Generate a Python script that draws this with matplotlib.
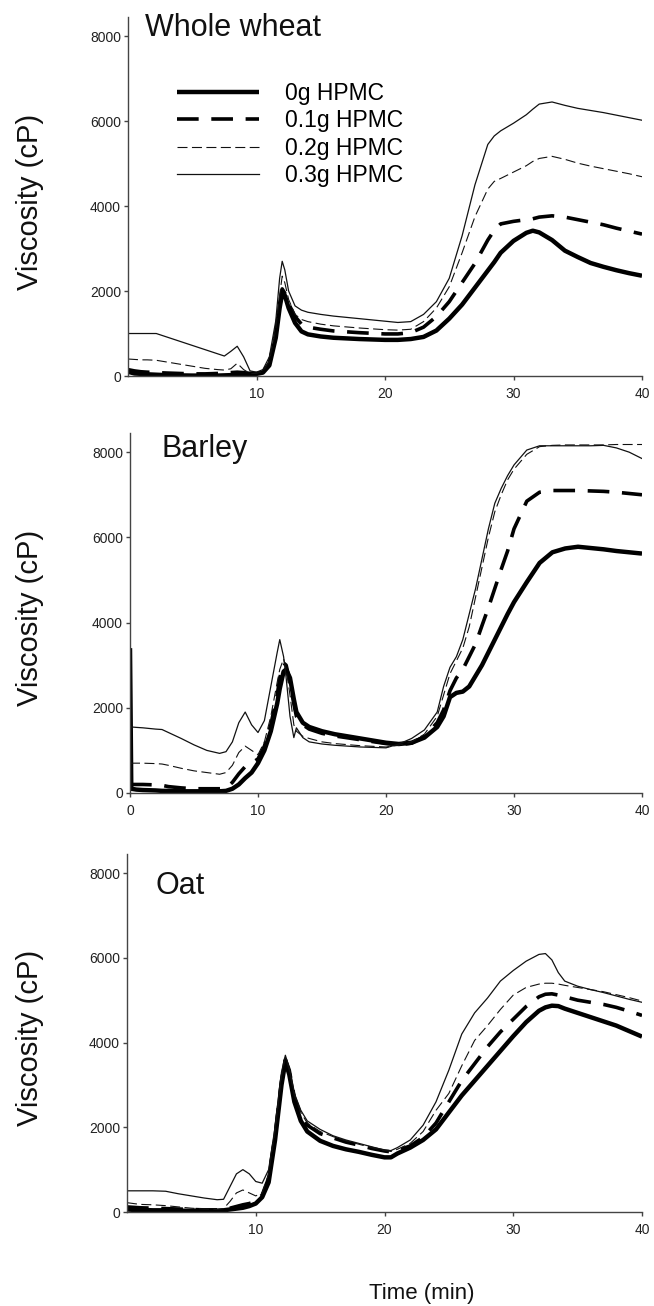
import matplotlib
matplotlib.use("Agg")
import matplotlib.pyplot as plt

plt.rcParams['font.family'] = ['Liberation Sans', 'DejaVu Sans']

series_labels = ["0g HPMC", "0.1g HPMC", "0.2g HPMC", "0.3g HPMC"]
panel_titles = ["Whole wheat", "Barley", "Oat"]
yticks = [0, 2000, 4000, 6000, 8000]

# ---------------- Whole wheat ----------------
t_wheat = [0, 0.5, 1, 1.5, 2.2, 3, 4, 5, 6, 7, 7.5, 8, 8.5, 9, 9.5, 10, 10.5, 11, 11.5, 11.8,
           12, 12.2, 12.5, 13, 13.5, 14, 15, 16, 18, 20, 21, 22, 23, 24, 25, 26, 27, 28, 28.5, 29,
           30, 31, 31.5, 32, 33, 34, 35, 36, 37, 38, 39, 40]
wheat_0 = [100, 60, 50, 40, 30, 20, 15, 10, 10, 10, 15, 20, 30, 40, 45, 50, 80, 250, 900, 1600,
           1950, 1900, 1600, 1250, 1050, 980, 930, 900, 870, 850, 850, 870, 920, 1070, 1350, 1680, 2080, 2480, 2680, 2900,
           3180, 3370, 3420, 3380, 3200, 2950, 2800, 2660, 2570, 2490, 2420, 2360]
wheat_01 = [150, 120, 100, 90, 80, 70, 60, 50, 50, 60, 70, 80, 90, 80, 60, 60, 100, 300, 1000, 1700,
            2050, 1950, 1700, 1400, 1220, 1150, 1100, 1060, 1020, 990, 990, 1020, 1150, 1400, 1750, 2200, 2650, 3200, 3430, 3580,
            3640, 3680, 3700, 3740, 3770, 3740, 3680, 3620, 3560, 3480, 3410, 3340]
wheat_02 = [400, 390, 380, 380, 370, 330, 280, 230, 180, 150, 140, 170, 300, 150, 60, 60, 110, 350, 1100, 1900,
            2350, 2200, 1800, 1450, 1330, 1280, 1220, 1180, 1130, 1090, 1080, 1100, 1280, 1600, 2100, 2900, 3750, 4400, 4580, 4650,
            4800, 4950, 5050, 5120, 5170, 5100, 5010, 4940, 4880, 4820, 4760, 4690]
wheat_03 = [1000, 1000, 1000, 1000, 1000, 920, 820, 720, 620, 520, 470, 580, 700, 450, 120, 90, 150, 450, 1300, 2300,
            2700, 2500, 2000, 1650, 1550, 1500, 1450, 1410, 1350, 1290, 1260, 1280, 1450, 1750, 2300, 3300, 4500, 5450, 5650, 5770,
            5950, 6150, 6280, 6400, 6450, 6370, 6300, 6250, 6200, 6140, 6080, 6020]

# ---------------- Barley ----------------
t_barley = [0, 0.1, 0.5, 1, 2, 2.5, 3, 4, 5, 6, 7, 7.5, 8, 8.5, 9, 9.5, 10, 10.5, 11, 11.5,
            11.7, 12, 12.2, 12.5, 12.8, 13, 13.5, 14, 15, 16, 18, 20, 21, 22, 23, 24, 24.5, 25, 25.5, 26,
            26.5, 27, 27.5, 28, 28.5, 29, 29.5, 30, 31, 32, 33, 34, 35, 36, 37, 38, 39, 40]
barley_0 = [3400, 100, 80, 70, 60, 50, 50, 40, 40, 40, 40, 50, 100, 200, 350, 480, 700, 1000, 1450, 2100,
            2450, 2850, 2900, 2700, 2200, 1900, 1650, 1550, 1450, 1380, 1280, 1180, 1150, 1180, 1300, 1550, 1800, 2250, 2350, 2380,
            2500, 2750, 3000, 3300, 3600, 3900, 4200, 4480, 4950, 5400, 5650, 5740, 5780, 5750, 5720, 5680, 5650, 5620]
barley_01 = [200, 200, 200, 200, 190, 180, 150, 120, 100, 100, 100, 110, 250, 450, 620, 700, 800, 1100, 1600, 2300,
             2700, 3050, 3000, 2600, 2100, 1800, 1600, 1500, 1400, 1340, 1250, 1160, 1130, 1170, 1330, 1650, 1950, 2400, 2700, 2900,
             3200, 3500, 3930, 4350, 4800, 5250, 5680, 6200, 6850, 7060, 7100, 7100, 7100, 7090, 7080, 7060, 7030, 7000]
barley_02 = [700, 700, 700, 700, 690, 680, 650, 580, 520, 480, 440, 480, 650, 950, 1100, 1000, 900, 1200, 1800, 2600,
             2900, 3150, 2900, 2300, 1600, 1450, 1330, 1280, 1200, 1160, 1110, 1080, 1120, 1200, 1380, 1800, 2300, 2800, 3100, 3400,
             3900, 4600, 5300, 6000, 6600, 7000, 7350, 7600, 7950, 8130, 8160, 8170, 8170, 8170, 8170, 8180, 8180, 8180]
barley_03 = [1550, 1550, 1540, 1530, 1500, 1490, 1420, 1280, 1130, 1000, 930, 970, 1200, 1650, 1900, 1600, 1420, 1700, 2500, 3300,
             3600, 3200, 2700, 1800, 1300, 1530, 1300, 1200, 1150, 1120, 1080, 1060, 1150, 1280, 1480, 1900, 2500, 2950, 3200, 3600,
             4200, 4800, 5500, 6200, 6800, 7150, 7450, 7700, 8050, 8150, 8150, 8150, 8150, 8150, 8160, 8100, 8000, 7850]

# ---------------- Oat ----------------
t_oat = [0, 0.5, 1, 2, 3, 4, 5, 6, 7, 7.5, 8, 8.5, 9, 9.5, 10, 10.5, 11, 11.5, 12, 12.3,
         12.6, 13, 13.5, 14, 15, 16, 17, 18, 19, 20, 20.5, 21, 22, 23, 24, 25, 26, 27, 28, 29,
         30, 31, 32, 32.5, 33, 33.5, 34, 35, 36, 37, 38, 39, 40]
oat_0 = [60, 50, 50, 40, 40, 30, 30, 30, 30, 40, 60, 80, 100, 140, 200, 350, 700, 1700, 3000, 3550,
         3250, 2600, 2150, 1900, 1680, 1560, 1480, 1420, 1350, 1290, 1290, 1380, 1520, 1700, 1950, 2350, 2750, 3100, 3450, 3800,
         4150, 4480, 4750, 4830, 4870, 4860, 4800, 4700, 4600, 4500, 4400, 4270, 4140]
oat_01 = [120, 110, 100, 90, 80, 70, 60, 50, 50, 60, 90, 130, 170, 200, 250, 400, 800, 1800, 3100, 3600,
          3350, 2700, 2300, 2050, 1850, 1750, 1650, 1580, 1500, 1440, 1420, 1450, 1560, 1760, 2100, 2600, 3100, 3500, 3900, 4250,
          4550, 4850, 5080, 5140, 5150, 5120, 5080, 5000, 4950, 4900, 4830, 4740, 4640]
oat_02 = [220, 200, 180, 170, 150, 120, 90, 70, 60, 80, 250, 450, 520, 450, 380, 450, 900, 1900, 3200, 3650,
          3350, 2750, 2350, 2100, 1900, 1780, 1680, 1600, 1520, 1450, 1430, 1480, 1620, 1900, 2400, 2800, 3450, 4050, 4400, 4780,
          5120, 5300, 5380, 5400, 5400, 5380, 5350, 5300, 5250, 5200, 5130, 5060, 4980]
oat_03 = [500, 500, 500, 500, 490, 430, 380, 330, 290, 300, 600, 900, 1000, 900, 720, 680, 1000, 2000, 3300, 3700,
          3400, 2800, 2400, 2150, 1950, 1800, 1700, 1620, 1540, 1460, 1450, 1520, 1700, 2050, 2600, 3350, 4200, 4700, 5050, 5450,
          5700, 5920, 6080, 6100, 5950, 5650, 5450, 5330, 5250, 5180, 5100, 5020, 4950]

panels = [
    (t_wheat, [wheat_0, wheat_01, wheat_02, wheat_03]),
    (t_barley, [barley_0, barley_01, barley_02, barley_03]),
    (t_oat, [oat_0, oat_01, oat_02, oat_03]),
]

styles = [
    dict(color='black', lw=3.2, ls='-', solid_capstyle='butt'),
    dict(color='black', lw=2.6, ls=(0, (6, 3.5)), dash_capstyle='butt'),
    dict(color='#111111', lw=0.8, ls=(0, (9, 4))),
    dict(color='#111111', lw=0.9, ls='-'),
]

W, H = 654, 1306
fig = plt.figure(figsize=(W / 100, H / 100), dpi=100)

# axes boxes in pixels: (left, top, right, bottom)
boxes = [(128, 17, 642, 376), (130, 433, 642, 793), (127, 854, 642, 1212)]
title_pos = [(1.3, 8000), (2.5, 7880), (2.2, 7500)]
xtick_sets = [[10, 20, 30, 40], [0, 10, 20, 30, 40], [10, 20, 30, 40]]

spine_col = '#444444'
for i, ((t, ys), (l, tp, r, b)) in enumerate(zip(panels, boxes)):
    ax = fig.add_axes([l / W, 1 - b / H, (r - l) / W, (b - tp) / H])
    for y, st, lab in zip(ys, styles, series_labels):
        ax.plot(t, y, label=lab, **st)
    ax.set_xlim(0, 40)
    ax.set_ylim(0, 8450)
    ax.set_yticks(yticks)
    ax.set_xticks(xtick_sets[i])
    ax.spines['top'].set_visible(False)
    ax.spines['right'].set_visible(False)
    for s in ('left', 'bottom'):
        ax.spines[s].set_color(spine_col)
        ax.spines[s].set_linewidth(1.0)
    ax.tick_params(axis='both', direction='out', length=3, width=1.0, color=spine_col,
                   labelsize=10, labelcolor='#222222')
    ax.tick_params(axis='y', pad=2)
    ax.tick_params(axis='x', pad=5)
    ax.patch.set_alpha(0)
    ax.text(title_pos[i][0], title_pos[i][1], panel_titles[i], fontsize=22,
            ha='left', va='baseline', clip_on=False, color='#111111')
    fig.text(30 / W, 1 - ((tp + b) / 2 + 5) / H, "Viscosity (cP)", rotation=90,
             ha='center', va='center', fontsize=21, color='#111111')
    if i == 0:
        ax.legend(loc='upper left', bbox_to_anchor=(0.095, 0.82), frameon=False,
                  fontsize=16.5, handlelength=3.6, handletextpad=1.1, labelspacing=0.2,
                  borderpad=0, borderaxespad=0)

fig.text(422 / W, 1 - 1293 / H, "Time (min)", ha='center', va='center',
         fontsize=16, color='#111111')

fig.savefig("out.png", dpi=100)
